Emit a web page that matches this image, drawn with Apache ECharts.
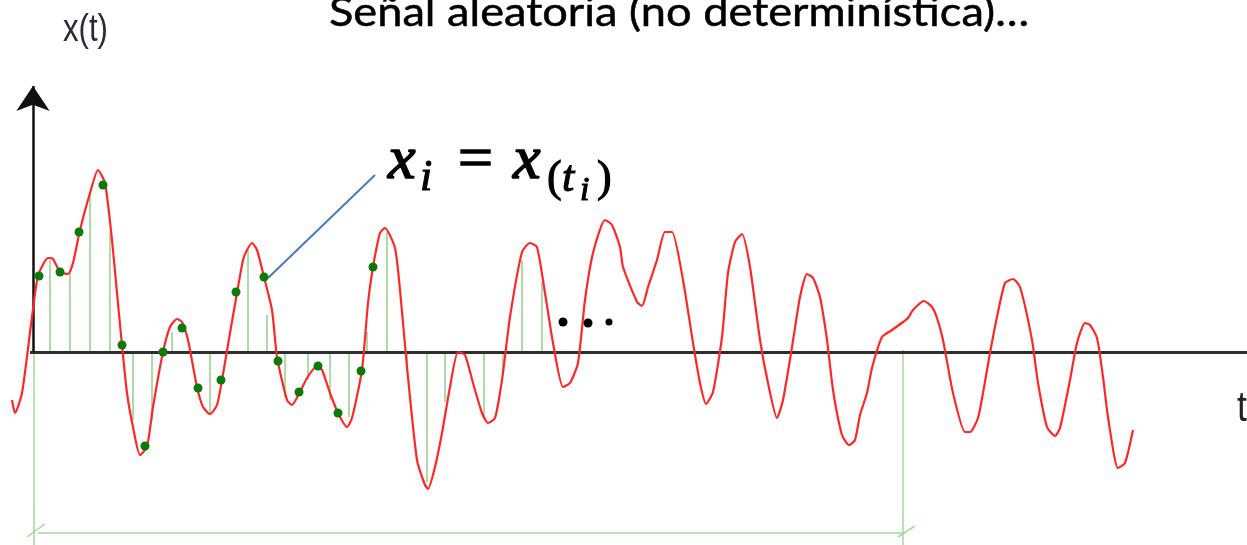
<!DOCTYPE html>
<html>
<head>
<meta charset="utf-8">
<script src="https://cdn.jsdelivr.net/npm/echarts@6/dist/echarts.min.js"></script>
<style>
html,body{margin:0;padding:0;background:#fff;}
#c{width:1247px;height:545px;}
</style>
</head>
<body>
<div id="c"></div>
<script>
// ---- data (t: time offset from origin, x: amplitude) ----
const signalT = [-21,-18,-11,-1,5,15,20,27,35,40,47,57,65,72,79,84,89,94,100,107,114,120,130,137,144,149,155,164,170,177,184,189,197,204,210,214,219,224,230,239,244,254,259,267,274,284,289,297,305,314,319,329,335,340,347,352,362,367,374,384,392,395,402,409,417,425,432,440,449,455,462,469,477,489,497,504,512,520,530,537,545,552,560,572,579,587,590,604,609,615,624,632,639,650,660,667,673,680,689,695,702,709,717,727,735,744,750,759,767,774,780,787,794,800,809,816,822,827,834,839,849,859,870,875,880,891,899,904,910,920,932,937,945,950,957,964,972,980,987,999,1005,1014,1022,1027,1037,1044,1052,1057,1064,1070,1075,1085,1092,1100];
const signalX = [-48,-61,-41,35,76,94,93,80,78,89,122,159,182,169,112,59,7,-41,-75,-103,-95,-55,0,25,33,30,12,-35,-55,-62,-53,-28,19,59,92,102,109,102,79,42,-5,-48,-53,-40,-26,-14,-18,-41,-61,-75,-66,-18,49,85,119,124,104,62,-15,-108,-133,-137,-115,-81,-35,0,-3,-31,-61,-71,-66,-28,35,100,109,105,59,9,-35,-31,-11,52,99,132,127,105,85,50,46,65,92,120,120,72,9,-31,-52,-40,15,79,110,118,85,12,-31,-66,-48,5,55,78,74,55,12,-38,-83,-93,-88,-63,-41,-16,15,22,30,34,42,51,45,34,12,-41,-80,-80,-66,-41,-1,35,69,73,65,12,-31,-75,-84,-76,-28,9,29,27,14,-25,-65,-116,-111,-78];

const stemT = [17,37,57,77,100,119,139,177,215,234,252,275,297,316,334,354,374,394,412,451,470,489,509];
const stemX = [92,79,159,119,-68,-68,20,-61,102,37,-45,-28,-48,-65,20,120,-21,-130,-50,-65,-23,92,70];

const sampleT = [6,27,46,70,89,112,130,149,165,188,203,231,245,266,285,305,328,340];
const sampleX = [76,80,120,167,7,-94,0,24,-36,-28,60,75,-9,-40,-14,-61,-19,85];

const ellipsisT = [530,555,576];
const ellipsisX = [30,29,30];

const titleText = 'Señal aleatoria (no determinística)…';
const yAxisLabel = 'x(t)';
const xAxisLabel = 't';

// ---- helpers ----
const zip = (a, b) => a.map((v, i) => [v, b[i]]);
const measureCtx = document.createElement('canvas').getContext('2d');
function fitScale(text, font, width) {
  measureCtx.font = font;
  return width / measureCtx.measureText(text).width;
}
function txt(text, x, y, font, opts) {
  opts = opts || {};
  const style = {
    text: text, x: 0, y: 0, font: font, fill: opts.fill || '#000',
    textAlign: 'left', textVerticalAlign: 'middle', align: 'left', verticalAlign: 'middle'
  };
  if (opts.stroke) { style.stroke = opts.stroke; style.lineWidth = opts.lineWidth || 1; }
  return { type: 'text', x: x, y: y, scaleX: opts.scaleX || 1, z: 100, style: style };
}

const titleFont = 'normal 41px Lato';
const labelFont = 'normal 38px "Liberation Sans"';
const mathI = 'italic 62px "Liberation Serif"';
const mathR = 'normal 62px "Liberation Serif"';
const subI = 'italic 44px "Liberation Serif"';
const subR = 'normal 44px "Liberation Serif"';
const subsubI = 'italic 34px "Liberation Serif"';
const heavy = { stroke: '#000', lineWidth: 1.6 };
const mid = { stroke: '#000', lineWidth: 1.1 };

const chart = echarts.init(document.getElementById('c'), null, { renderer: 'canvas' });

const bracketStyle = { color: '#a9d6a0', width: 1.5, opacity: 1 };

chart.setOption({
  animation: false,
  backgroundColor: '#fff',
  grid: { left: 0, right: 0, top: 0, bottom: 0 },
  xAxis: { type: 'value', min: -33, max: 1214, show: false },
  yAxis: { type: 'value', min: -193, max: 352, show: false },
  series: [
    {
      type: 'lines', coordinateSystem: 'cartesian2d', silent: true, z: 1,
      lineStyle: bracketStyle,
      data: [
        { coords: [[1, 0], [1, -193]] },
        { coords: [[870, 2], [870, -193]] },
        { coords: [[5, -181], [872, -181]] },
        { coords: [[-6, -185], [12, -172]] },
        { coords: [[865, -185], [882, -174]] }
      ]
    },
    {
      type: 'bar', data: zip(stemT, stemX), barWidth: 2, silent: true, z: 2,
      itemStyle: { color: '#b0d9a8' }
    },
    {
      type: 'lines', coordinateSystem: 'cartesian2d', silent: true, z: 3,
      lineStyle: { color: '#2e2e2e', width: 3, opacity: 1 },
      data: [{ coords: [[-3, 0], [1214, 0]] }]
    },
    {
      type: 'lines', coordinateSystem: 'cartesian2d', silent: true, z: 3,
      symbol: ['none', 'arrow'], symbolSize: [19, 25],
      lineStyle: { color: '#111', width: 2.5, opacity: 1 },
      data: [{ coords: [[0, 0], [0, 266]] }]
    },
    {
      type: 'line', data: zip(signalT, signalX), smooth: 0.2, showSymbol: false, silent: true, z: 4,
      lineStyle: { color: '#ff2626', width: 2.2 }
    },
    {
      type: 'scatter', data: zip(sampleT, sampleX), symbolSize: 9, silent: true, z: 5,
      itemStyle: { color: '#0a7a0a', opacity: 1 }
    },
    {
      type: 'lines', coordinateSystem: 'cartesian2d', silent: true, z: 5,
      lineStyle: { color: '#4a7bb7', width: 2, opacity: 1 },
      data: [{ coords: [[235, 74], [342, 177]] }]
    },
    {
      type: 'scatter', silent: true, z: 5,
      data: zip(ellipsisT, ellipsisX).map((p, i) => ({ value: p, symbolSize: i === 2 ? 7 : 9 })),
      itemStyle: { color: '#000', opacity: 1 }
    }
  ],
  graphic: [
    txt(titleText, 329, 13, titleFont, { scaleX: fitScale(titleText, titleFont, 700), stroke: '#000', lineWidth: 0.5 }),
    txt(yAxisLabel, 63, 31, labelFont, { scaleX: fitScale(yAxisLabel, labelFont, 45), fill: '#2a2a38' }),
    txt(xAxisLabel, 1237, 409, 'normal 42px "Liberation Sans"', { scaleX: 0.85, fill: '#222' }),
    txt('x', 388, 162, mathI, heavy),
    txt('i', 420, 178, subI, mid),
    txt('=', 458, 162, mathR, heavy),
    txt('x', 513, 162, mathI, heavy),
    txt('(', 547, 179, subR, mid),
    txt('t', 562, 179, subI, mid),
    txt('i', 580, 191, subsubI, mid),
    txt(')', 597, 179, subR, mid)
  ]
});
</script>
</body>
</html>
